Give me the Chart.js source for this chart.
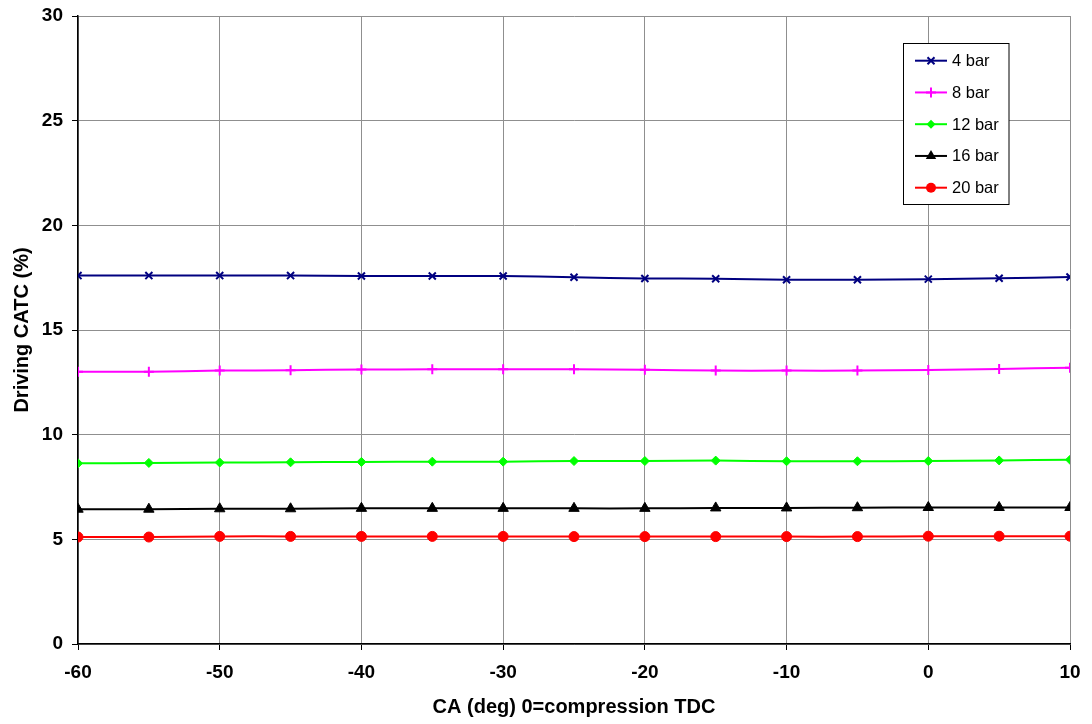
<!DOCTYPE html>
<html>
<head>
<meta charset="utf-8">
<script src="https://cdn.jsdelivr.net/npm/chart.js@4/dist/chart.umd.min.js"></script>
<style>
  body { margin: 0; background: #fff; }
  #wrap { width: 1092px; height: 724px; }
</style>
</head>
<body>
<div id="wrap"><canvas id="myChart" width="1092" height="724"></canvas></div>
<script>
const crankAngles = [-60, -55, -50, -45, -40, -35, -30, -25, -20, -15, -10, -5, 0, 5, 10];
const seriesNames = ["4 bar", "8 bar", "12 bar", "16 bar", "20 bar"];
const catc4bar  = [17.60, 17.60, 17.60, 17.60, 17.58, 17.58, 17.58, 17.52, 17.46, 17.45, 17.40, 17.40, 17.43, 17.47, 17.53];
const catc8bar  = [13.01, 13.01, 13.06, 13.08, 13.11, 13.12, 13.12, 13.12, 13.10, 13.06, 13.06, 13.06, 13.09, 13.14, 13.20];
const catc12bar = [8.63, 8.65, 8.67, 8.68, 8.70, 8.71, 8.71, 8.74, 8.74, 8.76, 8.73, 8.73, 8.74, 8.77, 8.80];
const catc16bar = [6.44, 6.44, 6.46, 6.46, 6.48, 6.48, 6.48, 6.48, 6.48, 6.50, 6.50, 6.51, 6.52, 6.52, 6.52];
const catc20bar = [5.11, 5.11, 5.14, 5.14, 5.14, 5.14, 5.14, 5.13, 5.13, 5.13, 5.13, 5.13, 5.15, 5.15, 5.15];
const xTicks = [-60, -50, -40, -30, -20, -10, 0, 10];
const yTicks = [0, 5, 10, 15, 20, 25, 30];

const allSeries = [catc4bar, catc8bar, catc12bar, catc16bar, catc20bar];
const colors = ["#000080", "#FF00FF", "#00FF00", "#000000", "#FF0000"];
const markers = ["crossRot", "cross", "rectRot", "triangle", "circle"];
const markerSizes = [5, 5, 4.5, 6, 5];

const FONT = "'Liberation Sans', Arial, sans-serif";

function toPoints(values) {
    var result = [];
    for (var i = 0; i < values.length; i++) result[i] = { x: crankAngles[i], y: values[i] };
    return result;
}

// little marker drawer for the legend box
function drawMarker(ctx, style, x, y, r, color) {
    ctx.save();
    ctx.strokeStyle = color;
    ctx.fillStyle = color;
    ctx.lineWidth = 2;
    ctx.beginPath();
    if (style === "crossRot") {
        var d = r * 0.7;
        ctx.moveTo(x - d, y - d); ctx.lineTo(x + d, y + d);
        ctx.moveTo(x + d, y - d); ctx.lineTo(x - d, y + d);
        ctx.stroke();
    } else if (style === "cross") {
        ctx.moveTo(x, y - r); ctx.lineTo(x, y + r);
        ctx.moveTo(x - r, y); ctx.lineTo(x + r, y);
        ctx.stroke();
    } else if (style === "rectRot") {
        ctx.moveTo(x, y - r); ctx.lineTo(x + r, y); ctx.lineTo(x, y + r); ctx.lineTo(x - r, y);
        ctx.closePath(); ctx.fill();
    } else if (style === "triangle") {
        ctx.moveTo(x, y - r); ctx.lineTo(x + r * 0.87, y + r * 0.5); ctx.lineTo(x - r * 0.87, y + r * 0.5);
        ctx.closePath(); ctx.fill();
    } else {
        ctx.arc(x, y, r, 0, Math.PI * 2); ctx.fill();
    }
    ctx.restore();
}

const legendBox = {
    id: "legendBox",
    afterDraw(chart) {
        const ctx = chart.ctx;
        const left = 903.5, top = 43.5, w = 105.5, h = 161;
        ctx.save();
        ctx.fillStyle = "#fff";
        ctx.fillRect(left, top, w, h);
        ctx.strokeStyle = "#000";
        ctx.lineWidth = 1;
        ctx.strokeRect(left, top, w, h);
        ctx.font = "16.5px " + FONT;
        ctx.textBaseline = "middle";
        for (let i = 0; i < seriesNames.length; i++) {
            const y = 60.7 + i * 31.75;
            ctx.strokeStyle = colors[i];
            ctx.lineWidth = 2;
            ctx.beginPath();
            ctx.moveTo(915, y); ctx.lineTo(947, y);
            ctx.stroke();
            drawMarker(ctx, markers[i], 931, y, markerSizes[i], colors[i]);
            ctx.fillStyle = "#000";
            ctx.fillText(seriesNames[i], 952, y + 1);
        }
        ctx.restore();
    }
};

var datasets = [];
for (let i = 0; i < allSeries.length; i++) {
    datasets.push({
        label: seriesNames[i],
        data: toPoints(allSeries[i]),
        borderColor: colors[i],
        backgroundColor: colors[i],
        pointBorderColor: colors[i],
        pointBackgroundColor: colors[i],
        pointStyle: markers[i],
        pointRadius: markerSizes[i],
        pointBorderWidth: (markers[i] === "cross" || markers[i] === "crossRot") ? 2 : 1,
        borderWidth: 2,
        tension: 0.3,
        fill: false,
    });
}

const ctx = document.getElementById("myChart").getContext("2d");
const myChart = new Chart(ctx, {
    type: "line",
    data: { datasets: datasets },
    options: {
        responsive: false,
        animation: false,
        layout: { padding: { top: 16, right: 22, left: 0, bottom: 0 } },
        plugins: {
            legend: { display: false },
            tooltip: { enabled: false },
        },
        scales: {
            x: {
                type: "linear",
                min: -60,
                max: 10,
                afterFit: function(scale) {
                    scale.height = 80;
                    scale.paddingLeft = 0;
                    scale.paddingRight = 0;
                },
                afterBuildTicks: function(scale) { scale.ticks = xTicks.map(v => ({ value: v })); },
                ticks: {
                    color: "#000",
                    font: { family: FONT, size: 19, weight: "bold" },
                    padding: 11,
                    maxRotation: 0,
                },
                grid: { color: "#8f8f8f", lineWidth: 1, tickColor: "#000", tickLength: 6 },
                border: { color: "#000", width: 1.5 },
                title: {
                    display: true,
                    text: "CA (deg) 0=compression TDC",
                    color: "#000",
                    font: { family: FONT, size: 20, weight: "bold" },
                    padding: { top: 0, bottom: 5 },
                },
            },
            y: {
                min: 0,
                max: 30,
                afterFit: function(scale) {
                    scale.width = 78;
                    scale.paddingTop = 0;
                    scale.paddingBottom = 0;
                },
                afterBuildTicks: function(scale) { scale.ticks = yTicks.map(v => ({ value: v })); },
                ticks: {
                    color: "#000",
                    font: { family: FONT, size: 19, weight: "bold" },
                    padding: 9,
                },
                grid: { color: "#8f8f8f", lineWidth: 1, tickColor: "#000", tickLength: 6 },
                border: { color: "#000", width: 1.5 },
                title: {
                    display: true,
                    text: "Driving CATC (%)",
                    color: "#000",
                    font: { family: FONT, size: 20, weight: "bold" },
                    padding: { top: 10, bottom: 0 },
                },
            },
        },
    },
    plugins: [legendBox],
});
</script>
</body>
</html>
